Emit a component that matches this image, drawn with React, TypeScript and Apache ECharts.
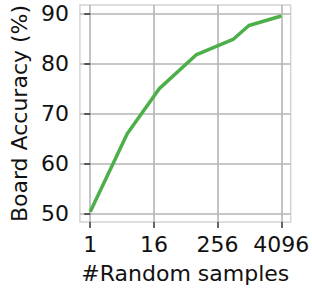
import React, { useEffect, useRef } from "react";
import * as echarts from "echarts";

const samples = [1, 5, 20, 100, 500, 1000, 4096];
const accuracy = [50.4, 66.0, 75.0, 81.8, 84.9, 87.7, 89.6];
const xTickLabels = ["1", "16", "256", "4096"];
const yTicks = [50, 60, 70, 80, 90];

const FONT = "DejaVu Sans";

export default function App() {
  const ref = useRef<HTMLDivElement>(null);
  useEffect(() => {
    document.body.style.margin = "0";
    const chart = echarts.init(ref.current!, null, { renderer: "svg" });
    const xTickVals = xTickLabels.map((s) => Math.log2(Number(s)));
    const data = samples.map((s, i) => [Math.log2(s), accuracy[i]]);
    chart.setOption({
      animation: false,
      backgroundColor: "#ffffff",
      grid: {
        left: 73.3,
        right: 20.3,
        top: 5,
        bottom: 65,
        show: true,
        borderColor: "#d4d4d4",
        borderWidth: 1.5,
        backgroundColor: "transparent",
      },
      xAxis: {
        type: "value",
        min: -0.65,
        max: 12.59,
        name: "#Random samples",
        nameLocation: "middle",
        nameGap: 40,
        nameTextStyle: { fontFamily: FONT, fontSize: 22, color: "#111" },
        axisLine: { show: false },
        axisTick: {
          show: true,
          customValues: xTickVals,
          length: 6,
          lineStyle: { color: "#333", width: 1.5 },
        },
        axisLabel: {
          customValues: xTickVals,
          margin: 11,
          fontFamily: FONT,
          fontSize: 22,
          color: "#111",
          formatter: (v: number) => String(Math.round(Math.pow(2, v))),
        },
        splitLine: { show: true, lineStyle: { color: "#b4b4b4", width: 1.6 } },
      },
      yAxis: {
        type: "value",
        min: 48.35,
        max: 91.8,
        name: "Board Accuracy (%)",
        nameLocation: "middle",
        nameGap: 42,
        nameTextStyle: { fontFamily: FONT, fontSize: 22, color: "#111" },
        axisLine: { show: false },
        axisTick: {
          show: true,
          customValues: yTicks,
          length: 6,
          lineStyle: { color: "#333", width: 1.5 },
        },
        axisLabel: {
          customValues: yTicks,
          margin: 11,
          fontFamily: FONT,
          fontSize: 22,
          color: "#111",
        },
        splitLine: { show: true, lineStyle: { color: "#b4b4b4", width: 1.6 } },
      },
      series: [
        {
          type: "line",
          data,
          showSymbol: false,
          symbol: "none",
          lineStyle: { color: "#4daf4a", width: 3.5 },
        },
      ],
    });
    return () => chart.dispose();
  }, []);
  return <div ref={ref} style={{ width: 312, height: 289 }} />;
}
